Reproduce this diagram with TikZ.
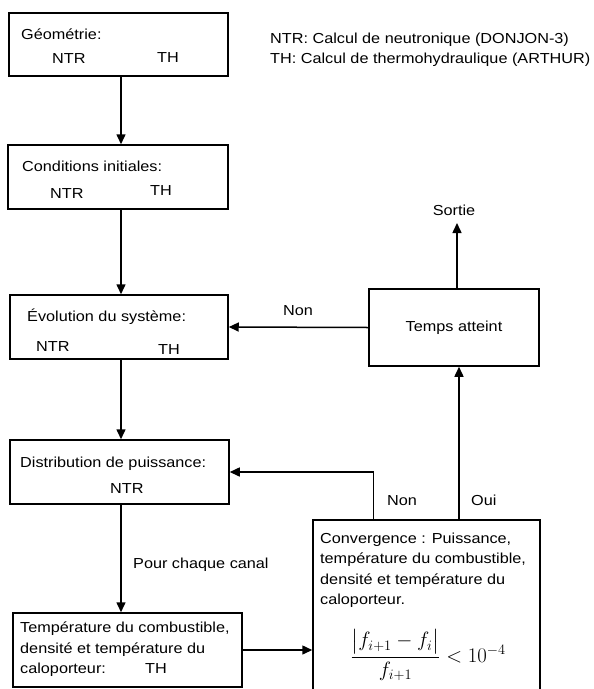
\documentclass[tikz,border=0pt]{standalone}
\usepackage{amsmath}
\usepackage{fontspec}
\setmainfont{Liberation Sans}[FakeStretch=1.12]
\usetikzlibrary{arrows.meta}

\tikzset{
  box/.style={draw, line width=1.5pt, rectangle, inner sep=0pt},
  txt/.style={anchor=base west, inner sep=0pt},
  arr/.style={-{Triangle[width=9pt,length=10pt]}, line width=1.5pt}
}

\begin{document}
\begin{tikzpicture}[x=1pt,y=-1pt,font=\fontsize{14.5}{20.5}\selectfont]
      \clip (0,0) rectangle (594,689);

      % boxes: name / centre / size
      \foreach \name/\cx/\cy/\w/\h in {geo/118.5/44.5/219/63, cond/118/177/220/64,
          evol/119/327/218/64, dist/119.5/472/219/64, thermo/127.5/650/229/74,
          conv/426.5/610/227/180}
        \node[box, minimum width=\w pt, minimum height=\h pt] (\name) at (\cx,\cy) {};
      \node[box, minimum width=170pt, minimum height=77pt] (temps) at (454,327.5) {Temps atteint};

      \node[txt] (geotxt) at (21,39) {Géométrie:};
      \node[txt] (geontr) at (52,63) {NTR};
      \node[txt] (geoth) at (157,62) {TH};

      \node[txt] (condtxt) at (22,171) {Conditions initiales:};
      \node[txt] (condntr) at (50,198) {NTR};
      \node[txt] (condth) at (150,195) {TH};

      \node[txt] (evoltxt) at (27,321) {Évolution du système:};
      \node[txt] (evolntr) at (36,351) {NTR};
      \node[txt] (evolth) at (158,354) {TH};

      \node[txt] (disttxt) at (20,467) {Distribution de puissance:};
      \node[txt] (distntr) at (110,493) {NTR};

      \node[txt] (thermoa) at (20,632) {Température du combustible,};
      \node[txt] (thermob) at (20,653) {densité et température du};
      \node[txt] (thermoc) at (20,673) {caloporteur:};
      \node[txt] (thermoth) at (145,673) {TH};

      \node[txt] (conva) at (320,543) {Convergence : Puissance,};
      \node[txt] (convb) at (320,563.5) {température du combustible,};
      \node[txt] (convc) at (320,584) {densité et température du};
      \node[txt] (convd) at (320,604.5) {caloporteur.};
      \node[inner sep=0pt, font=\fontsize{20}{24}\selectfont] (crit) at (428,655)
        {$\dfrac{\bigl|f_{i+1}-f_i\bigr|}{f_{i+1}}<10^{-4}$};

      \node[txt] (ntrnote) at (270,43) {NTR: Calcul de neutronique (DONJON-3)};
      \node[txt] (thnote) at (270,63) {TH: Calcul de thermohydraulique (ARTHUR)};

      % main chain
      \draw[arr] ([xshift=2.5pt]geo.south) -- ([xshift=2.5pt]geo.south |- cond.north);
      \draw[arr] ([xshift=3pt]cond.south) -- ([xshift=3pt]cond.south |- evol.north);
      \draw[arr] ([xshift=2pt]evol.south) -- ([xshift=2pt]evol.south |- dist.north);
      \draw[arr] ([xshift=1.5pt]dist.south) -- ([xshift=1.5pt]dist.south |- thermo.north);
      \node[txt] (canal) at (133,568) {Pour chaque canal};
      \draw[arr] (thermo.east) -- (thermo.east -| conv.west);

      % loops back
      \draw[arr] ([xshift=61pt]conv.north west) |- (dist.east);
      \node[txt] (non2) at (387,505) {Non};
      \draw[arr] ([xshift=5pt]temps.south |- conv.north) -- ([xshift=5pt]temps.south);
      \node[txt] (oui) at (471,505) {Oui};
      \draw[arr] (temps.west) -- (evol.east);
      \node[anchor=base, inner sep=0pt] (non1) at (298,315) {Non};

      \coordinate (out) at (457,223);
      \draw[arr] ([xshift=3pt]temps.north) -- (out);
      \node[anchor=base, inner sep=0pt] (sortie) at (454,215) {Sortie};
    \end{tikzpicture}
\end{document}
